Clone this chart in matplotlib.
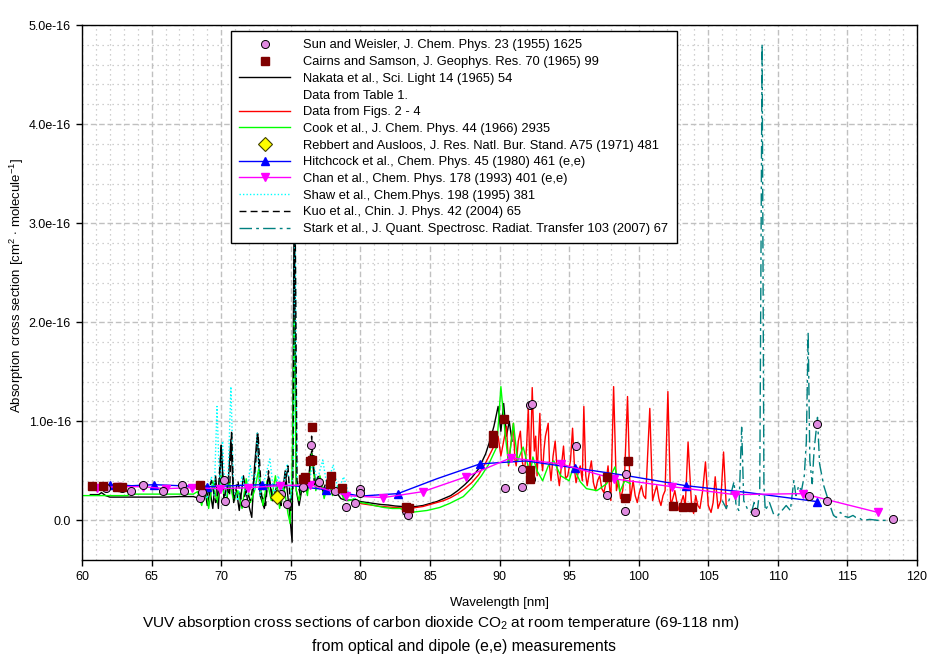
import numpy as np
import matplotlib
matplotlib.use("Agg")
import matplotlib.pyplot as plt
from matplotlib.lines import Line2D
from matplotlib.ticker import MultipleLocator

plt.rcParams['font.family'] = ['Liberation Sans', 'DejaVu Sans']
plt.rcParams['mathtext.fontset'] = 'custom'
plt.rcParams['mathtext.rm'] = 'Liberation Sans'
plt.rcParams['mathtext.it'] = 'Liberation Sans:italic'
plt.rcParams['mathtext.bf'] = 'Liberation Sans:bold'

# ============================
# Data (wavelength nm, cross section in units of 1e-16 cm^2)
# ============================
sun_x = [61.7, 62.9, 63.5, 64.4, 65.8, 67.2, 67.3, 68.5, 68.6, 70.2, 70.3, 71.7, 74.7, 74.3,
         75.9, 76.45, 76.5, 77.05, 78.2, 79.0, 79.6, 80.0, 80.0, 83.3, 83.45, 90.4, 91.6,
         91.65, 92.2, 92.35, 92.25, 95.5, 97.7, 99.0, 99.1, 108.35, 112.25, 112.8, 113.5, 118.3]
sun_y = [0.33, 0.33, 0.30, 0.36, 0.30, 0.36, 0.30, 0.23, 0.29, 0.41, 0.20, 0.18, 0.17, 0.27,
         0.34, 0.76, 0.62, 0.39, 0.30, 0.13, 0.18, 0.32, 0.28, 0.09, 0.05, 0.33, 0.52,
         0.34, 1.16, 1.17, 0.42, 0.75, 0.26, 0.09, 0.47, 0.08, 0.25, 0.97, 0.20, 0.01]

cairns_x = [60.7, 61.5, 62.5, 62.9, 68.5, 75.9, 76.0, 76.4, 76.5, 76.55, 77.8, 77.9, 78.7,
            83.3, 83.5, 89.5, 89.55, 90.3, 92.2, 92.2, 97.7, 99.0, 99.2, 102.5, 103.2, 103.8]
cairns_y = [0.35, 0.35, 0.34, 0.34, 0.36, 0.42, 0.44, 0.60, 0.61, 0.94, 0.37, 0.45, 0.33,
            0.14, 0.12, 0.78, 0.86, 1.02, 0.51, 0.42, 0.44, 0.23, 0.60, 0.15, 0.13, 0.13]

nakata = [(60.6, 0.26), (61.2, 0.26), (61.4, 0.28), (61.7, 0.25), (62.0, 0.235), (63.0, 0.235),
          (64.0, 0.235), (65.0, 0.235), (66.0, 0.235), (67.0, 0.24), (68.0, 0.24), (68.5, 0.22),
          (68.8, 0.35), (69.0, 0.15), (69.2, 0.30), (69.4, 0.12), (69.6, 0.45), (69.8, 0.12),
          (70.0, 0.75), (70.2, 0.25), (70.4, 0.15), (70.7, 0.82), (70.9, 0.18), (71.1, 0.30),
          (71.3, 0.10), (71.6, 0.45), (71.9, 0.20), (72.2, 0.03), (72.4, 0.55), (72.6, 0.88),
          (72.8, 0.25), (73.1, 0.12), (73.4, 0.45), (73.7, 0.20), (74.0, 0.35), (74.3, 0.15),
          (74.6, 0.50), (74.9, 0.10), (75.1, -0.22), (75.25, 3.4), (75.4, 0.30), (75.6, 0.15),
          (75.9, 0.40), (76.2, 0.30), (76.5, 0.70), (76.8, 0.35), (77.1, 0.40), (77.4, 0.25),
          (77.8, 0.35), (78.2, 0.30), (78.6, 0.22), (79.0, 0.20), (79.5, 0.21), (80.0, 0.19),
          (80.5, 0.18), (81.0, 0.17), (81.5, 0.16), (82.0, 0.155), (82.5, 0.145), (83.0, 0.14),
          (83.5, 0.135), (84.0, 0.14), (84.5, 0.15), (85.0, 0.17), (85.5, 0.19), (86.0, 0.22),
          (86.5, 0.25), (87.0, 0.30), (87.5, 0.36), (88.0, 0.43), (88.5, 0.52), (89.0, 0.67),
          (89.3, 0.80), (89.6, 0.95), (89.9, 1.15), (90.1, 0.90), (90.3, 1.18), (90.5, 0.85),
          (90.7, 1.00), (90.9, 0.80)]

figs = [(79.5, 0.19), (80.0, 0.17), (80.5, 0.16), (81.0, 0.15), (81.5, 0.14), (82.0, 0.135),
        (82.5, 0.13), (83.0, 0.125), (83.5, 0.12), (84.0, 0.13), (84.5, 0.14), (85.0, 0.16),
        (85.5, 0.18), (86.0, 0.20), (86.5, 0.23), (87.0, 0.27), (87.5, 0.32), (88.0, 0.38),
        (88.5, 0.46), (89.0, 0.58), (89.5, 0.72), (89.9, 0.85), (90.1, 0.65), (90.3, 0.80),
        (90.5, 0.95), (90.65, 0.55), (90.8, 0.75), (91.0, 0.98), (91.1, 0.62), (91.2, 0.55),
        (91.35, 0.80), (91.5, 0.90), (91.65, 0.58), (91.8, 0.50), (91.95, 0.75), (92.07, 1.14),
        (92.2, 0.45), (92.35, 1.34), (92.5, 0.70), (92.6, 0.85), (92.7, 0.45), (92.9, 1.08),
        (93.0, 0.62), (93.1, 0.50), (93.2, 0.72), (93.3, 0.85), (93.5, 0.98), (93.6, 0.55),
        (93.7, 0.40), (93.85, 0.65), (94.0, 0.80), (94.15, 0.50), (94.3, 0.35), (94.45, 0.55),
        (94.6, 0.75), (94.75, 0.42), (94.9, 0.45), (95.1, 0.60), (95.25, 0.93), (95.4, 0.50),
        (95.5, 0.38), (95.65, 0.48), (95.8, 0.55), (95.95, 0.40), (96.06, 1.15), (96.2, 0.45),
        (96.3, 0.35), (96.45, 0.48), (96.6, 0.60), (96.75, 0.38), (96.9, 0.30), (97.05, 0.40),
        (97.2, 0.45), (97.35, 0.32), (97.5, 0.28), (97.65, 0.38), (97.8, 0.55), (97.9, 0.35),
        (98.0, 0.20), (98.2, 1.35), (98.4, 0.30), (98.55, 0.40), (98.7, 0.22), (98.85, 0.30),
        (99.0, 0.50), (99.2, 1.25), (99.4, 0.20), (99.6, 0.40), (99.75, 0.25), (99.9, 0.18),
        (100.05, 0.28), (100.2, 0.35), (100.35, 0.25), (100.5, 0.22), (100.8, 1.13), (101.0, 0.20),
        (101.15, 0.28), (101.3, 0.35), (101.45, 0.22), (101.6, 0.15), (101.75, 0.25), (101.9, 0.30),
        (102.1, 1.30), (102.3, 0.15), (102.45, 0.22), (102.6, 0.30), (102.75, 0.18), (102.9, 0.10),
        (103.05, 0.18), (103.2, 0.25), (103.35, 0.15), (103.55, 0.79), (103.8, 0.15), (103.95, 0.07),
        (104.1, 0.25), (104.25, 0.15), (104.4, 0.12), (104.6, 0.30), (104.8, 0.59), (105.0, 0.15),
        (105.2, 0.08), (105.35, 0.18), (105.5, 0.44), (105.7, 0.12), (105.9, 0.20), (106.1, 0.69),
        (106.3, 0.12)]

cook = [(60.0, 0.25), (63.3, 0.25), (63.35, 0.265), (68.0, 0.265), (68.3, 0.29), (68.6, 0.15),
        (68.9, 0.35), (69.1, 0.12), (69.4, 0.40), (69.7, 0.18), (70.0, 0.45), (70.3, 0.15),
        (70.6, 0.38), (70.9, 0.20), (71.2, 0.30), (71.5, 0.12), (71.8, 0.42), (72.1, 0.18),
        (72.4, 0.30), (72.7, 0.52), (73.0, 0.15), (73.3, 0.40), (73.6, 0.20), (73.9, 0.45),
        (74.2, 0.12), (74.5, 0.35), (74.8, 0.07), (74.95, -0.03), (75.1, 0.50), (75.25, 2.05),
        (75.4, 0.30), (75.6, 0.20), (75.9, 0.45), (76.2, 0.25), (76.5, 0.67), (76.8, 0.30),
        (77.1, 0.45), (77.4, 0.22), (77.7, 0.40), (78.0, 0.25), (78.4, 0.35), (78.8, 0.22),
        (79.2, 0.20), (79.6, 0.22), (80.0, 0.18), (80.45, 0.17), (81.0, 0.15), (81.7, 0.13),
        (82.3, 0.12), (82.85, 0.12), (83.6, 0.08), (84.2, 0.09), (84.8, 0.10), (85.7, 0.13),
        (86.4, 0.17), (87.4, 0.24), (88.1, 0.34), (88.7, 0.45), (89.2, 0.56), (89.8, 0.74),
        (90.1, 1.35), (90.4, 0.88), (90.65, 0.57), (91.0, 0.98), (91.3, 0.60), (91.7, 0.74),
        (92.2, 0.47), (92.4, 0.64), (92.7, 0.50), (93.1, 0.40), (93.5, 0.55), (93.9, 0.60),
        (94.4, 0.45), (95.0, 0.40), (95.3, 0.54), (95.8, 0.39), (96.25, 0.32), (97.0, 0.30),
        (97.7, 0.37), (98.3, 0.54), (98.65, 0.29), (99.0, 0.40), (99.4, 0.37)]

rebbert_x = [74.0]
rebbert_y = [0.235]

hitch_x = [61.5, 62.0, 63.6, 65.2, 67.0, 69.0, 70.9, 72.9, 75.2, 77.5, 80.0, 82.7, 85.5,
           88.6, 91.9, 95.4, 99.2, 103.4, 107.9, 112.8]
hitch_y = [0.35, 0.36, 0.35, 0.36, 0.35, 0.34, 0.35, 0.36, 0.35, 0.31, 0.245, 0.27, 0.42,
           0.57, 0.60, 0.53, 0.45, 0.35, 0.28, 0.19]

chan_x = [61.05, 62.6, 64.4, 66.0, 67.9, 69.9, 71.95, 74.2, 76.4, 79.0, 81.65, 84.5, 87.6,
          90.8, 94.4, 98.2, 102.4, 106.9, 111.8, 117.2]
chan_y = [0.33, 0.34, 0.34, 0.32, 0.33, 0.32, 0.33, 0.35, 0.36, 0.25, 0.23, 0.29, 0.44,
          0.63, 0.57, 0.42, 0.34, 0.26, 0.27, 0.08]

shaw = [(68.7, 0.30), (69.0, 0.22), (69.3, 0.44), (69.5, 0.25), (69.7, 1.15), (69.9, 0.30),
        (70.1, 0.80), (70.3, 0.22), (70.5, 0.45), (70.7, 1.35), (70.9, 0.30), (71.2, 0.20),
        (71.5, 0.45), (71.8, 0.25), (72.1, 0.55), (72.4, 0.30), (72.6, 0.88), (72.8, 0.25),
        (73.1, 0.40), (73.5, 0.62), (73.8, 0.25), (74.1, 0.45), (74.4, 0.30), (74.75, 0.57),
        (75.0, 0.20), (75.2, 0.60), (75.3, 3.40), (75.45, 0.40), (75.7, 0.30), (76.0, 0.45),
        (76.3, 0.35), (76.6, 0.60), (76.9, 0.40), (77.3, 0.61), (77.6, 0.35), (78.05, 0.56),
        (78.4, 0.30), (78.8, 0.44), (79.2, 0.25), (79.6, 0.22)]

kuo = [(69.0, 0.25), (69.3, 0.40), (69.6, 0.18), (69.8, 0.30), (70.0, 0.76), (70.2, 0.20),
       (70.4, 0.35), (70.6, 0.25), (70.75, 0.91), (70.9, 0.20), (71.2, 0.40), (71.5, 0.15),
       (71.8, 0.30), (72.1, 0.20), (72.4, 0.45), (72.65, 0.88), (72.9, 0.25), (73.2, 0.15),
       (73.4, 0.50), (73.7, 0.20), (74.0, 0.30), (74.3, 0.15), (74.6, 0.35), (74.8, 0.55),
       (75.0, 0.10), (75.15, 0.30), (75.3, 3.40), (75.45, 0.40), (75.7, 0.25), (76.0, 0.30),
       (76.3, 0.40), (76.5, 0.85), (76.7, 0.35), (77.0, 0.45), (77.3, 0.30), (77.6, 0.40),
       (77.8, 0.48), (78.1, 0.25), (78.5, 0.30), (79.0, 0.22)]

stark = [(106.0, 0.20), (106.3, 0.12), (106.6, 0.25), (106.85, 0.39), (107.0, 0.15), (107.2, 0.10),
         (107.4, 0.94), (107.55, 0.20), (107.8, 0.12), (108.1, 0.08), (108.3, 0.18), (108.5, 0.07),
         (108.7, 0.30), (108.87, 4.81), (109.0, 0.35), (109.1, 0.10), (109.4, 0.18), (109.7, 0.06),
         (110.0, 0.05), (110.3, 0.10), (110.6, 0.15), (110.9, 0.10), (111.15, 0.40), (111.3, 0.25),
         (111.5, 0.35), (111.7, 0.30), (111.9, 0.45), (112.05, 0.80), (112.18, 1.90), (112.3, 0.60),
         (112.47, 0.37), (112.6, 0.70), (112.85, 1.04), (113.0, 0.57), (113.3, 0.35), (113.7, 0.17),
         (114.0, 0.05), (114.2, 0.03), (114.5, 0.08), (114.8, 0.04), (115.1, 0.03), (115.4, 0.05),
         (115.6, 0.03), (115.9, 0.02), (116.1, 0.00), (116.6, 0.01), (117.2, 0.00), (117.8, 0.00),
         (118.6, 0.00)]

labels = ["Sun and Weisler, J. Chem. Phys. 23 (1955) 1625",
          "Cairns and Samson, J. Geophys. Res. 70 (1965) 99",
          "Nakata et al., Sci. Light 14 (1965) 54",
          "Data from Table 1.",
          "Data from Figs. 2 - 4",
          "Cook et al., J. Chem. Phys. 44 (1966) 2935",
          "Rebbert and Ausloos, J. Res. Natl. Bur. Stand. A75 (1971) 481",
          "Hitchcock et al., Chem. Phys. 45 (1980) 461 (e,e)",
          "Chan et al., Chem. Phys. 178 (1993) 401 (e,e)",
          "Shaw et al., Chem.Phys. 198 (1995) 381",
          "Kuo et al., Chin. J. Phys. 42 (2004) 65",
          "Stark et al., J. Quant. Spectrosc. Radiat. Transfer 103 (2007) 67"]

ytick_vals = [0, 1, 2, 3, 4, 5]
ytick_labels = ["0.0", "1.0e-16", "2.0e-16", "3.0e-16", "4.0e-16", "5.0e-16"]

# ============================
# Figure
# ============================
fig = plt.figure(figsize=(9.42, 6.59), dpi=100)
ax = fig.add_axes([82 / 942, 99 / 659, 835 / 942, 535 / 659])

sun_c = '#E08AE0'
teal = '#008080'
dash = (0, (5, 3))
dashdot = (0, (9, 3, 2, 3))
dots = (0, (1, 1.5))


def xy(pairs):
    a = np.array(pairs)
    return a[:, 0], a[:, 1]


x, y = xy(nakata)
ax.plot(x, y, color='black', lw=1, zorder=2)
x, y = xy(figs)
ax.plot(x, y, color='red', lw=1, zorder=2.1)
x, y = xy(cook)
ax.plot(x, y, color='#00FF00', lw=1, zorder=2.2)
x, y = xy(shaw)
ax.plot(x, y, color='#00FFFF', lw=1, ls=dots, zorder=2.3)
x, y = xy(kuo)
ax.plot(x, y, color='black', lw=1, ls=dash, zorder=2.4)
x, y = xy(stark)
ax.plot(x, y, color=teal, lw=1, ls=dashdot, zorder=2.5)

ax.plot(hitch_x, hitch_y, color='blue', lw=1, marker='^', ms=6.2, markevery=(1, 2),
        mec='blue', zorder=2.6)
ax.plot(chan_x, chan_y, color='magenta', lw=1, marker='v', ms=6.2, mec='magenta', zorder=2.7)

ax.plot(sun_x, sun_y, ls='none', marker='o', ms=5.8, mfc=sun_c, mec='black', mew=0.7, zorder=3)
ax.plot(cairns_x, cairns_y, ls='none', marker='s', ms=5.2, mfc='#800000', mec='#800000', zorder=3.1)
ax.plot(rebbert_x, rebbert_y, ls='none', marker='D', ms=7.5, mfc='yellow', mec='#404000',
        mew=0.8, zorder=3.2)

# axes
ax.set_xlim(60, 120)
ax.set_ylim(-0.4, 5.0)
ax.set_xticks(range(60, 121, 5))
ax.set_xticklabels([str(v) for v in range(60, 121, 5)])
ax.set_yticks(ytick_vals)
ax.set_yticklabels(ytick_labels)
ax.xaxis.set_minor_locator(MultipleLocator(1))
ax.yaxis.set_minor_locator(MultipleLocator(0.2))
ax.tick_params(which='minor', length=0)
ax.tick_params(which='major', direction='out', length=4, width=1, labelsize=9, pad=4,
               top=False, right=False)
ax.set_axisbelow(True)
ax.grid(which='major', color='#C0C0C0', ls=(0, (4, 2)), lw=1)
ax.grid(which='minor', color='#C0C0C0', ls=(0, (1, 3)), lw=0.9)
for s in ax.spines.values():
    s.set_color('black')
    s.set_linewidth(1)

# legend
handles = [
    Line2D([], [], ls='none', marker='o', ms=5.8, mfc=sun_c, mec='black', mew=0.7),
    Line2D([], [], ls='none', marker='s', ms=5.2, mfc='#800000', mec='#800000'),
    Line2D([], [], color='black', lw=1),
    Line2D([], [], color='none'),
    Line2D([], [], color='red', lw=1),
    Line2D([], [], color='#00FF00', lw=1),
    Line2D([], [], ls='none', marker='D', ms=7.5, mfc='yellow', mec='#404000', mew=0.8),
    Line2D([], [], color='blue', lw=1, marker='^', ms=6.2),
    Line2D([], [], color='magenta', lw=1, marker='v', ms=6.2),
    Line2D([], [], color='#00FFFF', lw=1, ls=dots),
    Line2D([], [], color='black', lw=1, ls=dash),
    Line2D([], [], color=teal, lw=1, ls=dashdot),
]
leg = ax.legend(handles, labels, loc='upper left', bbox_to_anchor=(231 / 942, 1 - 31 / 659),
                bbox_transform=fig.transFigure, fontsize=9.3, frameon=True, fancybox=False,
                edgecolor='black', framealpha=1, borderaxespad=0, borderpad=0.65,
                handlelength=3.95, handletextpad=1.0, labelspacing=0.36, numpoints=1)
leg.get_frame().set_linewidth(1)
leg.set_zorder(10)

# labels
fig.text(17 / 942, 1 - 286 / 659,
         r'Absorption cross section [cm$^{2}$ $\cdot$ molecule$^{-1}$]',
         rotation=90, ha='center', va='center', fontsize=9.5)
fig.text(499 / 942, 1 - 603 / 659, 'Wavelength [nm]', ha='center', va='center', fontsize=9.5)
fig.text(441 / 942, 1 - 623 / 659,
         r'VUV absorption cross sections of carbon dioxide CO$_2$ at room temperature (69-118 nm)',
         ha='center', va='center', fontsize=11.1)
fig.text(464 / 942, 1 - 647 / 659, 'from optical and dipole (e,e) measurements',
         ha='center', va='center', fontsize=11.3)

fig.savefig('out.png', dpi=100)
